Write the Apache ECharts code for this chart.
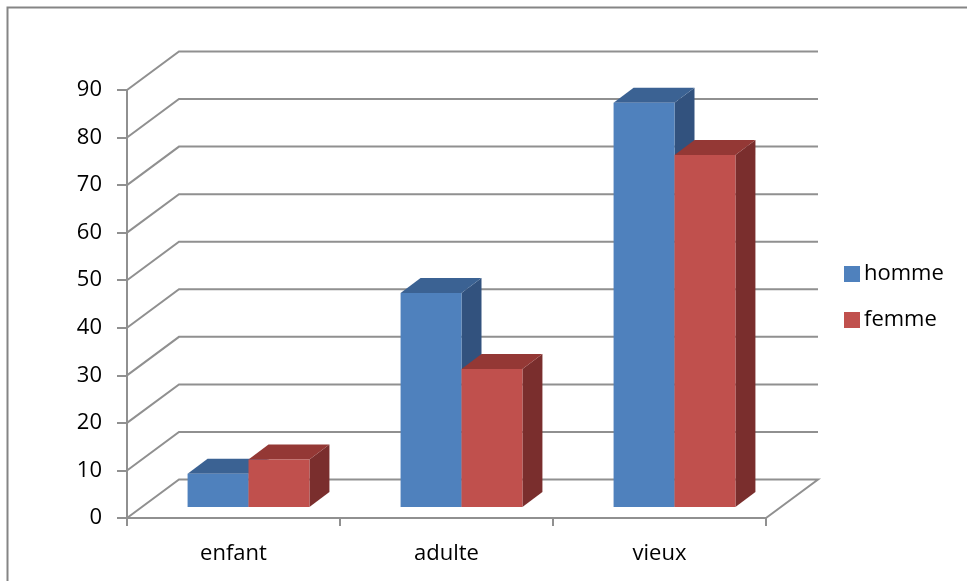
<!DOCTYPE html>
<html>
<head>
<meta charset="utf-8">
<style>
  html, body { margin: 0; padding: 0; background: #ffffff; }
  #chart { width: 967px; height: 581px; }
</style>
<script src="https://cdn.jsdelivr.net/npm/echarts@6/dist/echarts.min.js"></script>
</head>
<body>
<div id="chart"></div>
<script>
// Age groups and counts per sex
const categories = ['enfant', 'adulte', 'vieux'];
const hommeValues = [7, 45, 85];
const femmeValues = [10, 29, 74];
const yTicks = [0, 10, 20, 30, 40, 50, 60, 70, 80, 90];

// Oblique projection used for the pseudo-3D look
const WALL_DX = 52, WALL_DY = -38.5;   // depth of the floor / back wall
const BAR_SHIFT_X = 15, BAR_SHIFT_Y = -11; // bars sit a little behind the front edge
const BAR_DX = 20, BAR_DY = -15;       // depth of each bar
const BAR_FRACTION = 0.286;            // bar width relative to a category band

const FONT = '"Open Sans", "Liberation Sans", sans-serif';
const GRID_COLOR = '#909090';

const faces = {
  homme: { front: '#4F81BD', top: '#3B6293', side: '#32527E' },
  femme: { front: '#C0504D', top: '#943835', side: '#7A2E2D' }
};

function gridRenderer(params, api) {
  const cs = params.coordSys;
  const v = api.value(0);
  const y = api.coord([0, v])[1];
  const left = cs.x, right = cs.x + cs.width;
  const pts = [[left, y], [left + WALL_DX, y + WALL_DY], [right + WALL_DX, y + WALL_DY]];
  if (v === 0) pts.push([right, y]);
  return {
    type: 'polyline',
    shape: { points: pts },
    style: { stroke: GRID_COLOR, lineWidth: 2, fill: null },
    silent: true
  };
}

function barRenderer(side, palette) {
  return function (params, api) {
    const cat = api.value(0);
    const val = api.value(1);
    const base = api.coord([cat, 0]);
    const topPt = api.coord([cat, val]);
    const band = api.size([1, 0])[0];
    const w = band * BAR_FRACTION;
    const cx = base[0] + BAR_SHIFT_X;
    const x0 = side === 0 ? cx - w : cx;
    const x1 = x0 + w;
    const yb = base[1] + BAR_SHIFT_Y;
    const yt = topPt[1] + BAR_SHIFT_Y;
    return {
      type: 'group',
      children: [
        {
          type: 'polygon',
          shape: { points: [[x1, yt], [x1 + BAR_DX, yt + BAR_DY], [x1 + BAR_DX, yb + BAR_DY], [x1, yb]] },
          style: { fill: palette.side }
        },
        {
          type: 'polygon',
          shape: { points: [[x0, yt], [x1, yt], [x1 + BAR_DX, yt + BAR_DY], [x0 + BAR_DX, yt + BAR_DY]] },
          style: { fill: palette.top }
        },
        {
          type: 'rect',
          shape: { x: x0, y: yt, width: w, height: yb - yt },
          style: { fill: palette.front }
        }
      ]
    };
  };
}

const chart = echarts.init(document.getElementById('chart'), null, { renderer: 'canvas' });

chart.setOption({
  backgroundColor: '#ffffff',
  animation: false,
  graphic: [{
    type: 'rect',
    left: 5, top: 5,
    shape: { width: 1200, height: 1000 },
    style: { fill: null, stroke: '#858585', lineWidth: 2 },
    silent: true,
    z: -10
  }],
  legend: {
    orient: 'vertical',
    left: 839,
    top: 258,
    itemWidth: 16,
    itemHeight: 16,
    itemGap: 24,
    icon: 'rect',
    data: ['homme', 'femme'],
    textStyle: { fontFamily: FONT, fontSize: 22, color: '#000000', padding: [0, 0, 0, -1] }
  },
  grid: { left: 127, top: 90, right: 201, bottom: 63, containLabel: false },
  xAxis: {
    type: 'category',
    data: categories,
    boundaryGap: true,
    axisLine: { show: true, lineStyle: { color: GRID_COLOR, width: 2 } },
    axisTick: { show: true, length: 8, alignWithLabel: false, lineStyle: { color: GRID_COLOR, width: 2 } },
    axisLabel: { fontFamily: FONT, fontSize: 22, color: '#000000', margin: 25 },
    splitLine: { show: false }
  },
  yAxis: {
    type: 'value',
    min: 0, max: 90, interval: 10,
    axisLine: { show: true, lineStyle: { color: GRID_COLOR, width: 2 } },
    axisTick: { show: true, length: 10, lineStyle: { color: GRID_COLOR, width: 2 } },
    axisLabel: { fontFamily: FONT, fontSize: 22, color: '#000000', margin: 25 },
    splitLine: { show: false }
  },
  series: [
    {
      type: 'custom',
      name: 'grid',
      silent: true,
      renderItem: gridRenderer,
      data: yTicks.map(v => [v]),
      encode: { y: 0 },
      z: 1
    },
    {
      type: 'custom',
      name: 'homme',
      itemStyle: { color: faces.homme.front },
      renderItem: barRenderer(0, faces.homme),
      data: hommeValues.map((v, i) => [i, v]),
      encode: { x: 0, y: 1 },
      z: 2
    },
    {
      type: 'custom',
      name: 'femme',
      itemStyle: { color: faces.femme.front },
      renderItem: barRenderer(1, faces.femme),
      data: femmeValues.map((v, i) => [i, v]),
      encode: { x: 0, y: 1 },
      z: 3
    }
  ]
});
</script>
</body>
</html>
